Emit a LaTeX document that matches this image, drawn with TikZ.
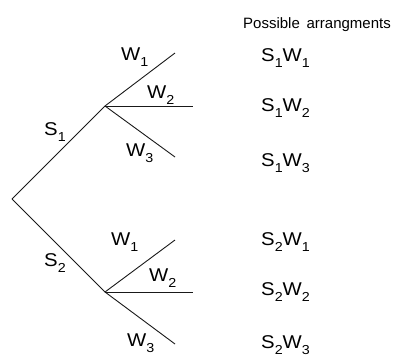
\documentclass[tikz,border=0pt]{standalone}
\usepackage{fontspec}
\setmainfont{Liberation Sans}
\newfontfamily\labfont[FakeStretch=1.1]{Liberation Sans}
\usetikzlibrary{positioning}
\newcommand{\ix}[1]{\raisebox{-6pt}{\fontsize{13}{13}\selectfont #1}}

\begin{document}
\begin{tikzpicture}[
  x=1pt, y=-1pt,
  lbl/.style={font=\labfont\fontsize{18.5}{18.5}\selectfont, inner sep=0pt, anchor=base west},
  head/.style={font=\fontsize{15}{15}\selectfont, inner sep=0pt, anchor=base west},
  branch/.style={line width=0.9pt, color=black!90},
]
  \useasboundingbox (0,0) rectangle (394,354);

  % ── Tree points ──
  \coordinate (root) at (12, 199);
  \coordinate (s1)   at (105, 106);
  \coordinate (s2)   at (105, 292);
  \coordinate (a1)   at (175, 53);
  \coordinate (a2)   at (193, 106);
  \coordinate (a3)   at (175, 157);
  \coordinate (b1)   at (175, 240);
  \coordinate (b2)   at (193, 292);
  \coordinate (b3)   at (175, 344);

  % ══ Branches ══
  \draw[branch] (root) -- (s1);
  \draw[branch] (root) -- (s2);
  \foreach \e in {a1, a2, a3}
    \draw[branch] (s1) -- (\e);
  \foreach \e in {b1, b2, b3}
    \draw[branch] (s2) -- (\e);

  % ── Branch labels ──
  \node[lbl] (ls1) at (44, 135)   {S\ix{1}};
  \node[lbl] (ls2) at (44, 266.5) {S\ix{2}};
  \node[lbl] (la1) at (121, 60)   {W\ix{1}};
  \node[lbl] (la2) at (147, 98)   {W\ix{2}};
  \node[lbl] (la3) at (126, 156.5) {W\ix{3}};
  \node[lbl] (lb1) at (111, 245)  {W\ix{1}};
  \node[lbl] (lb2) at (149, 281.5) {W\ix{2}};
  \node[lbl] (lb3) at (127, 346.5) {W\ix{3}};

  % ── Outcomes ──
  \node[head] (title) at (243, 28) {Possible\hspace{0.45em}arrangments};
  \node[lbl] (o11) at (261, 61)    {S\ix{1}W\ix{1}};
  \node[lbl] (o12) at (261, 111.5) {S\ix{1}W\ix{2}};
  \node[lbl] (o13) at (261, 166.5) {S\ix{1}W\ix{3}};
  \node[lbl] (o21) at (261, 245)   {S\ix{2}W\ix{1}};
  \node[lbl] (o22) at (261, 295)   {S\ix{2}W\ix{2}};
  \node[lbl] (o23) at (261, 348)   {S\ix{2}W\ix{3}};
\end{tikzpicture}
\end{document}
